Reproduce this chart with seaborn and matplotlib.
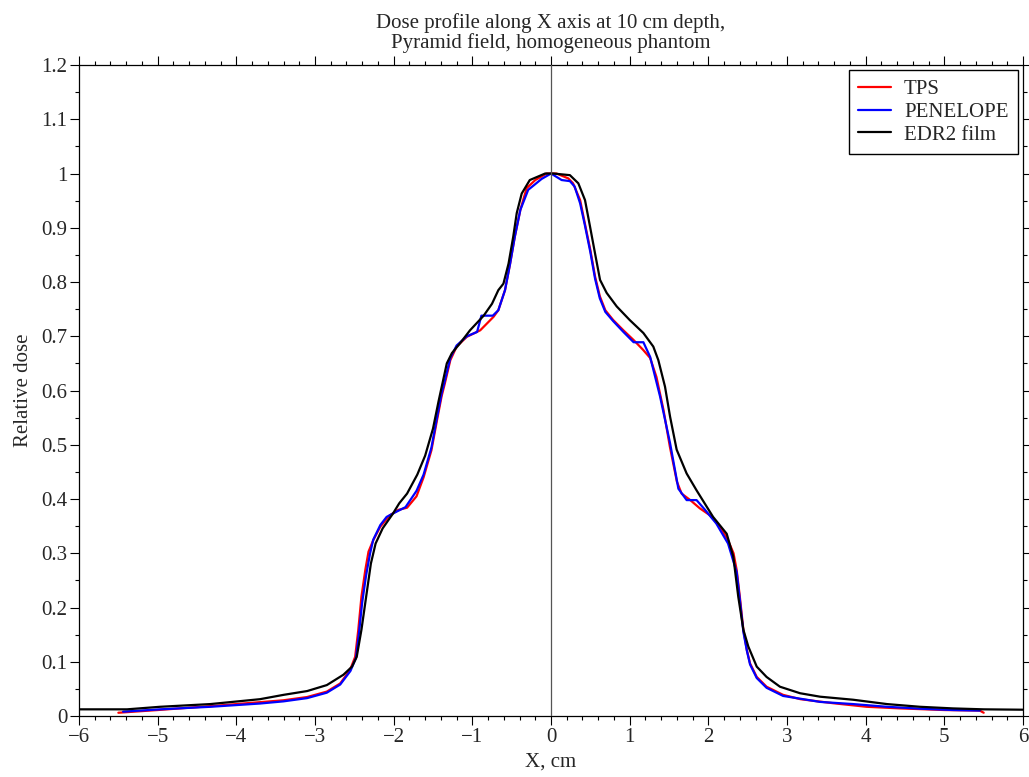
import numpy as np
import pandas as pd
import matplotlib
matplotlib.use("Agg")
import matplotlib.pyplot as plt
import seaborn as sns
from matplotlib.ticker import MultipleLocator, FuncFormatter

# values
tps_x = [-5.5, -5.0, -4.25, -3.83, -3.4, -3.1, -2.85, -2.68, -2.555, -2.49, -2.45, -2.41,
         -2.36, -2.32, -2.26, -2.17, -2.05, -1.94, -1.83, -1.71, -1.62, -1.52, -1.45, -1.39,
         -1.35, -1.28, -1.2, -1.07, -0.9, -0.73, -0.67, -0.585, -0.52, -0.46, -0.39, -0.31,
         -0.2, -0.055, 0.07, 0.22, 0.28, 0.37, 0.43, 0.5, 0.56, 0.62, 0.69, 0.79, 0.92, 1.05,
         1.17, 1.26, 1.34, 1.43, 1.51, 1.6, 1.66, 1.77, 1.89, 2.02, 2.15, 2.25, 2.32, 2.36,
         2.4, 2.445, 2.49, 2.53, 2.615, 2.74, 2.95, 3.17, 3.59, 4.01, 4.44, 5.0, 5.45, 5.5]
tps_y = [0.006, 0.011, 0.019, 0.024, 0.029, 0.035, 0.045, 0.06, 0.085, 0.109, 0.159, 0.22,
         0.27, 0.303, 0.324, 0.349, 0.37, 0.38, 0.384, 0.405, 0.44, 0.49, 0.545, 0.59,
         0.613, 0.656, 0.681, 0.699, 0.711, 0.736, 0.748, 0.785, 0.834, 0.884, 0.933, 0.973,
         0.988, 1.0, 1.0, 0.991, 0.982, 0.951, 0.908, 0.859, 0.81, 0.774, 0.748, 0.73, 0.711, 0.693,
         0.675, 0.66, 0.625, 0.564, 0.497, 0.432, 0.41, 0.398, 0.383, 0.37, 0.349, 0.324, 0.3, 0.269,
         0.22, 0.159, 0.121, 0.097, 0.072, 0.054, 0.039, 0.031, 0.0235, 0.017, 0.014, 0.011, 0.01, 0.006]

pen_x = [-5.44, -4.97, -4.33, -3.7, -3.4, -3.1, -2.85, -2.68, -2.55, -2.48, -2.44, -2.4,
         -2.35, -2.3, -2.26, -2.17, -2.09, -2.0, -1.85, -1.71, -1.62, -1.52, -1.45, -1.39,
         -1.35, -1.28, -1.2, -1.07, -0.94, -0.885, -0.74, -0.67, -0.585, -0.52, -0.46, -0.39,
         -0.29, -0.23, -0.12, 0.0, 0.135, 0.24, 0.3, 0.37, 0.43, 0.5, 0.56, 0.62, 0.69, 0.79,
         0.92, 1.05, 1.174, 1.26, 1.386, 1.513, 1.619, 1.724, 1.85, 1.958, 2.1, 2.25, 2.3, 2.36,
         2.4, 2.445, 2.49, 2.53, 2.615, 2.74, 2.95, 3.42, 3.84, 4.27, 4.69, 5.11, 5.45]
pen_y = [0.008, 0.0123, 0.017, 0.023, 0.027, 0.033, 0.043, 0.058, 0.083, 0.107, 0.155, 0.21,
         0.26, 0.3, 0.325, 0.352, 0.367, 0.374, 0.385, 0.415, 0.445, 0.495, 0.55, 0.595,
         0.618, 0.66, 0.683, 0.7, 0.708, 0.738, 0.738, 0.748, 0.785, 0.834, 0.884, 0.933,
         0.97, 0.977, 0.99, 1.0, 0.988, 0.986, 0.976, 0.945, 0.905, 0.855, 0.806, 0.77, 0.745, 0.728,
         0.708, 0.689, 0.689, 0.662, 0.589, 0.503, 0.419, 0.398, 0.398, 0.38, 0.355, 0.318, 0.294, 0.265,
         0.215, 0.155, 0.12, 0.095, 0.07, 0.052, 0.037, 0.026, 0.022, 0.017, 0.0135, 0.011, 0.01]

film_x = [-6.0, -5.39, -4.97, -4.33, -3.7, -3.4, -3.1, -2.85, -2.64, -2.53, -2.47, -2.41,
          -2.35, -2.29, -2.23, -2.14, -2.01, -1.93, -1.83, -1.7, -1.6, -1.5, -1.43, -1.37,
          -1.325, -1.26, -1.157, -1.03, -0.856, -0.75, -0.67, -0.605, -0.54, -0.48, -0.436, -0.373,
          -0.27, -0.075, 0.03, 0.24, 0.347, 0.432, 0.496, 0.559, 0.623, 0.707, 0.835, 1.0,
          1.174, 1.3, 1.364, 1.449, 1.513, 1.597, 1.724, 1.85, 2.06, 2.233, 2.317, 2.38,
          2.445, 2.508, 2.615, 2.74, 2.91, 3.165, 3.42, 3.84, 4.27, 4.69, 5.11, 5.5, 6.0]
film_y = [0.0123, 0.0123, 0.017, 0.022, 0.031, 0.039, 0.046, 0.057, 0.076, 0.091, 0.109, 0.159,
          0.22, 0.281, 0.318, 0.346, 0.373, 0.392, 0.41, 0.445, 0.48, 0.53, 0.58, 0.62,
          0.65, 0.669, 0.687, 0.711, 0.738, 0.76, 0.785, 0.797, 0.834, 0.884, 0.927, 0.963,
          0.988, 1.0, 1.0, 0.997, 0.982, 0.951, 0.902, 0.853, 0.804, 0.78, 0.755, 0.73,
          0.706, 0.681, 0.656, 0.607, 0.552, 0.491, 0.447, 0.416, 0.367, 0.336, 0.294, 0.22,
          0.159, 0.128, 0.091, 0.072, 0.054, 0.042, 0.0356, 0.03, 0.022, 0.017, 0.014, 0.0123, 0.0116]

series_names = ["TPS", "PENELOPE", "EDR2 film"]
series_colors = ["#ff0000", "#0000ff", "#000000"]

df = pd.concat([
    pd.DataFrame({"x": tps_x, "dose": tps_y, "series": "TPS"}),
    pd.DataFrame({"x": pen_x, "dose": pen_y, "series": "PENELOPE"}),
    pd.DataFrame({"x": film_x, "dose": film_y, "series": "EDR2 film"}),
], ignore_index=True)

sns.set_style("white")
plt.rcParams["font.family"] = ["Liberation Serif", "DejaVu Serif"]
plt.rcParams["axes.unicode_minus"] = True

fig, ax = plt.subplots(figsize=(10.29, 7.77), dpi=100)
fig.subplots_adjust(left=0.0768, right=0.9942, bottom=0.0785, top=0.9163)

sns.lineplot(data=df, x="x", y="dose", hue="series", hue_order=series_names,
             palette=dict(zip(series_names, series_colors)), estimator=None, sort=False,
             linewidth=1.6, ax=ax)
ax.axvline(0, color="#555555", linewidth=0.9, zorder=3)

ax.set_xlim(-6, 6)
ax.set_ylim(0, 1.2)
ax.xaxis.set_major_locator(MultipleLocator(1))
ax.xaxis.set_minor_locator(MultipleLocator(0.2))
ax.yaxis.set_major_locator(MultipleLocator(0.1))
ax.yaxis.set_minor_locator(MultipleLocator(0.05))
ax.yaxis.set_major_formatter(FuncFormatter(lambda v, p: f"{v:g}"))
ax.tick_params(which="both", direction="out", top=True, right=True, bottom=True, left=True,
               labelsize=15, color="black", width=0.8)
ax.tick_params(which="major", length=6.5, pad=2)
ax.tick_params(which="minor", length=3.2)
for s in ax.spines.values():
    s.set_color("black")
    s.set_linewidth(0.9)

ax.set_xlabel("X, cm", fontsize=15, labelpad=4)
ax.set_ylabel("Relative dose", fontsize=15, labelpad=6)
ax.set_title("Dose profile along X axis at 10 cm depth,\nPyramid field, homogeneous phantom",
             fontsize=15, pad=12, linespacing=1.05)

ax.legend(loc="upper right", fontsize=15, frameon=True, fancybox=False, framealpha=1,
          edgecolor="black", handlelength=1.6, borderaxespad=0.25, labelspacing=0.15,
          borderpad=0.45, handletextpad=0.6)

fig.savefig("out.png", dpi=100)
